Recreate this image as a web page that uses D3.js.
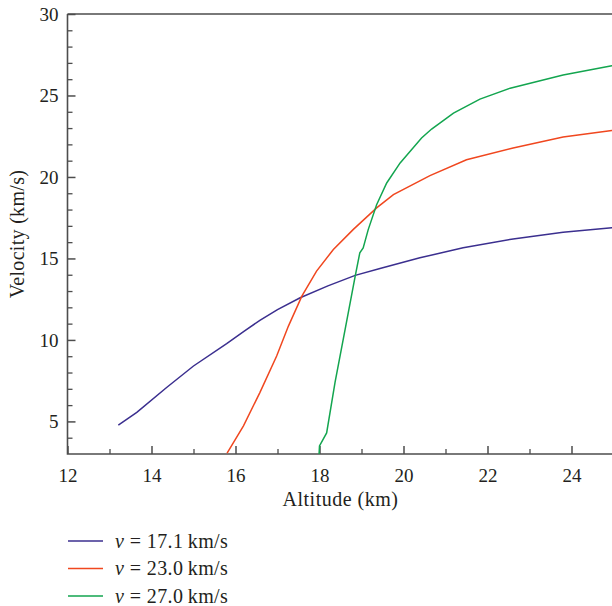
<!DOCTYPE html>
<html>
<head>
<meta charset="utf-8">
<script src="https://cdn.jsdelivr.net/npm/d3@7"></script>
<style>
  body { margin: 0; background: #fff; }
  svg text { font-family: "Liberation Serif", "DejaVu Serif", serif; fill: #231f20; }
</style>
</head>
<body>
<svg id="chart"></svg>
<script>
// altitude (km) / velocity (km/s)
const altitude_171 = [13.21, 13.65, 14.36, 15.0, 15.79, 16.2, 16.58, 17.0, 17.54, 18.2, 18.85, 19.44, 20.39, 21.42, 22.61, 23.80, 24.96, 25.0];
const velocity_171 = [4.77, 5.55, 7.08, 8.40, 9.77, 10.53, 11.2, 11.86, 12.59, 13.32, 13.96, 14.38, 15.04, 15.65, 16.20, 16.61, 16.88, 16.89];

const altitude_230 = [15.80, 16.19, 16.58, 16.98, 17.26, 17.58, 17.93, 18.33, 18.80, 19.36, 19.76, 20.63, 21.50, 22.61, 23.80, 24.96, 25.0];
const velocity_230 = [3.06, 4.73, 6.77, 9.01, 10.85, 12.69, 14.22, 15.55, 16.77, 18.10, 18.92, 20.08, 21.06, 21.78, 22.45, 22.85, 22.86];

const altitude_270 = [17.99, 18.0, 18.17, 18.37, 18.61, 18.85, 18.96, 19.04, 19.16, 19.36, 19.60, 19.92, 20.43, 20.67, 21.19, 21.82, 22.54, 23.80, 24.96, 25.0];
const velocity_270 = [3.0, 3.5, 4.29, 7.39, 10.65, 13.91, 15.35, 15.65, 16.77, 18.30, 19.63, 20.86, 22.39, 22.94, 23.92, 24.78, 25.45, 26.26, 26.82, 26.84];

const series_names = ["17.1", "23.0", "27.0"];
const x_ticks = [12, 14, 16, 18, 20, 22, 24];
const y_ticks = [5, 10, 15, 20, 25, 30];

class LineChart {

    constructor(config, data) {
        this.config = {
            parent: config.parent,
            width: config.width || 612,
            height: config.height || 606,
            margin: config.margin || {top: 14, right: 0, bottom: 152, left: 67.5}
        };
        this.data = data;
        this.init();
    }

    init() {
        let self = this;

        self.svg = d3.select(self.config.parent)
            .attr('width', self.config.width)
            .attr('height', self.config.height);

        self.inner_width = 546;
        self.inner_height = self.config.height - self.config.margin.top - self.config.margin.bottom;

        self.chart = self.svg.append('g')
            .attr('transform', `translate(${self.config.margin.left}, ${self.config.margin.top})`);

        self.xscale = d3.scaleLinear().domain([12, 25]).range([0, self.inner_width]);
        self.yscale = d3.scaleLinear().domain([3, 30]).range([self.inner_height, 0]);

        self.color = d3.scaleOrdinal()
            .domain(series_names)
            .range(["#3b2f8f", "#f0471f", "#13a54f"]);
    }

    render() {
        let self = this;
        const axis_color = "#4d4d4d";

        self.svg.append('defs').append('clipPath').attr('id', 'plot-clip')
            .append('rect')
            .attr('width', self.inner_width).attr('height', self.inner_height);

        // minor ticks
        self.chart.append('g')
            .attr('transform', `translate(0, ${self.inner_height})`)
            .call(d3.axisBottom(self.xscale).tickValues(d3.range(13, 25, 2)).tickSize(-5).tickFormat(''))
            .call(g => g.select('.domain').remove())
            .selectAll('line').attr('stroke', axis_color).attr('stroke-width', 1.3);
        self.chart.append('g')
            .call(d3.axisLeft(self.yscale).tickValues(d3.range(4, 30).filter(v => v % 5 != 0)).tickSize(-5).tickFormat(''))
            .call(g => g.select('.domain').remove())
            .selectAll('line').attr('stroke', axis_color).attr('stroke-width', 1.3);

        // major ticks + labels
        let xaxis = self.chart.append('g')
            .attr('transform', `translate(0, ${self.inner_height})`)
            .call(d3.axisBottom(self.xscale).tickValues(x_ticks).tickSize(-8).tickPadding(15));
        xaxis.select('.domain').remove();
        xaxis.selectAll('line').attr('stroke', axis_color).attr('stroke-width', 1.5);
        xaxis.selectAll('text').attr('font-size', '19px').attr('fill', '#231f20')
            .attr('font-family', '"Liberation Serif", serif');

        let yaxis = self.chart.append('g')
            .call(d3.axisLeft(self.yscale).tickValues(y_ticks).tickSize(-8).tickPadding(9));
        yaxis.select('.domain').remove();
        yaxis.selectAll('line').attr('stroke', axis_color).attr('stroke-width', 1.5);
        yaxis.selectAll('text').attr('font-size', '19px').attr('fill', '#231f20')
            .attr('font-family', '"Liberation Serif", serif');

        // frame: left, bottom, top
        self.chart.append('path')
            .attr('d', `M0,0H${self.inner_width}M0,0V${self.inner_height}H${self.inner_width}`)
            .attr('fill', 'none')
            .attr('stroke', axis_color)
            .attr('stroke-width', 1.6);

        // curves
        let line = d3.line()
            .x(d => self.xscale(d[0]))
            .y(d => self.yscale(d[1]));

        self.chart.append('g').attr('clip-path', 'url(#plot-clip)')
            .selectAll('path.curve')
            .data(self.data)
            .enter()
            .append('path')
            .attr('class', 'curve')
            .attr('d', d => line(d.points))
            .attr('fill', 'none')
            .attr('stroke', d => self.color(d.name))
            .attr('stroke-width', 1.5);

        // axis titles
        self.svg.append('text')
            .attr('x', self.config.margin.left + self.inner_width / 2)
            .attr('y', 506)
            .attr('text-anchor', 'middle')
            .attr('font-size', '20px')
            .attr('letter-spacing', '0.5px')
            .text('Altitude (km)');

        self.svg.append('text')
            .attr('transform', `translate(24, ${self.config.margin.top + self.inner_height / 2}) rotate(-90)`)
            .attr('text-anchor', 'middle')
            .attr('font-size', '20px')
            .attr('letter-spacing', '0.3px')
            .text('Velocity (km/s)');

        // legend
        let legend = self.svg.append('g')
            .selectAll('g')
            .data(self.data)
            .enter()
            .append('g')
            .attr('transform', (d, i) => `translate(68, ${541 + i * 27.5})`);

        legend.append('line')
            .attr('x1', 0).attr('x2', 35)
            .attr('stroke', d => self.color(d.name))
            .attr('stroke-width', 1.5);

        let label = legend.append('text')
            .attr('x', 47)
            .attr('dy', '0.34em')
            .attr('font-size', '20px')
            .attr('letter-spacing', '0.4px');
        label.append('tspan').attr('font-style', 'italic').text('\u03bd');
        label.append('tspan').text(d => ` = ${d.name}\u2009km/s`);
    }
}

let data = [
    {name: series_names[0], points: d3.zip(altitude_171, velocity_171)},
    {name: series_names[1], points: d3.zip(altitude_230, velocity_230)},
    {name: series_names[2], points: d3.zip(altitude_270, velocity_270)}
];

let chart = new LineChart({parent: '#chart', width: 612, height: 606}, data);
chart.render();
</script>
</body>
</html>
